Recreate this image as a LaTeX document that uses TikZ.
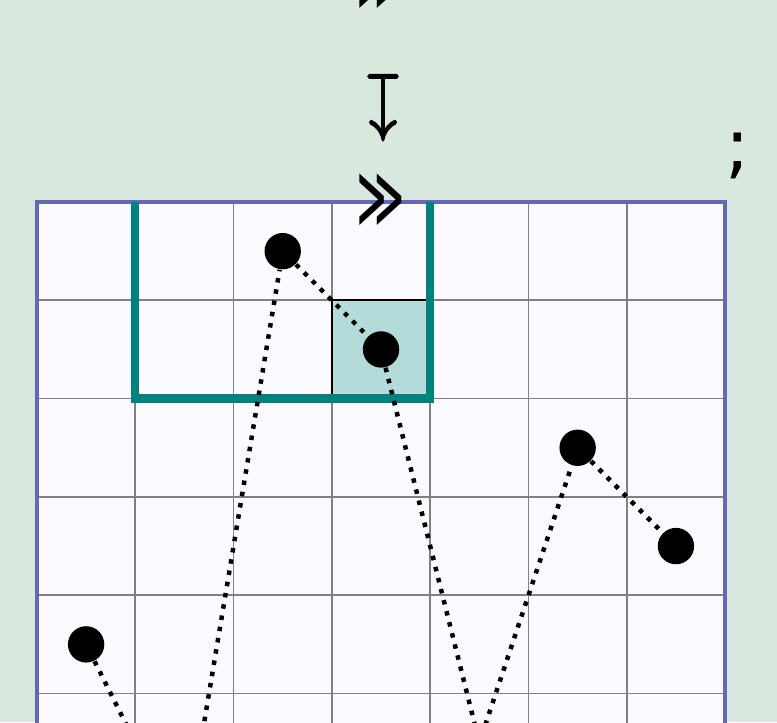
\documentclass[tikz,border=0pt]{standalone}
\usepackage{fontspec}
\setmainfont{DejaVu Sans}
\newfontfamily\arrowfont[FakeBold=2.5]{Latin Modern Math}
\begin{document}
\begin{tikzpicture}[x=1cm,y=1cm,
  bgfill/.style={fill={rgb,255:red,217;green,232;blue,223}},
  boardfill/.style={fill={rgb,255:red,250;green,250;blue,255}},
  gridline/.style={draw={rgb,255:red,128;green,128;blue,128}, line width=0.5pt},
  boardedge/.style={draw={rgb,255:red,102;green,102;blue,187}, line width=1.2pt},
  tealbox/.style={draw={rgb,255:red,0;green,130;blue,127}, line width=2.4pt},
  hicell/.style={fill={rgb,255:red,179;green,219;blue,217}, draw=black, line width=0.5pt},
  token/.style={circle, fill=black, minimum size=0.37cm, inner sep=0pt},
  sym/.style={inner sep=0pt, font=\fontsize{24}{28}\selectfont},
  gglyph/.style={sym},
  path/.style={draw=black, line width=1.3pt, dotted}]
  \useasboundingbox (-0.376,-5.29) rectangle (7.528,2.055);
  \clip (-0.376,-5.29) rectangle (7.528,2.055);
  \fill[bgfill] (-0.376,-5.29) rectangle (7.528,2.055);

  % board with grid
  \fill[boardfill] (0,-8) rectangle (7,0);
  \draw[gridline] (0,-8) grid (7,0);
  \path[hicell] (3,-1) -- (3,-2) -- (4,-2) -- (4,-1) -- cycle;
  \draw[boardedge] (0,-8) -- (0,0) -- (7,0) -- (7,-8);
  \draw[tealbox] (1,0) -- (1,-2) -- (4,-2) -- (4,0);

  % tokens
  \node[token] (p1) at (0.5,-4.5) {};
  \node[token] (p2) at (1.5,-6.5) {};
  \node[token] (p3) at (2.5,-0.5) {};
  \node[token] (p4) at (3.5,-1.5) {};
  \node[token] (p5) at (4.5,-5.5) {};
  \node[token] (p6) at (5.5,-2.5) {};
  \node[token] (p7) at (6.5,-3.5) {};
  \draw[path] (p1) -- (p2) -- (p3) -- (p4) -- (p5) -- (p6) -- (p7);

  % symbols above the board
  \node[gglyph] (g1) at (3.5,0.01) {\scalebox{0.56}[1.06]{≫}};
  \node[inner sep=0pt, font=\arrowfont\fontsize{22}{26}\selectfont] (mt) at (3.52,0.96) {\scalebox{0.75}[1]{↧}};
  \node[gglyph] (g0) at (3.5,2.22) {\scalebox{0.56}[1.06]{≫}};
  \node[inner sep=0pt, font=\fontsize{21}{25}\selectfont] (sc) at (7.13,0.47) {;};
\end{tikzpicture}
\end{document}
